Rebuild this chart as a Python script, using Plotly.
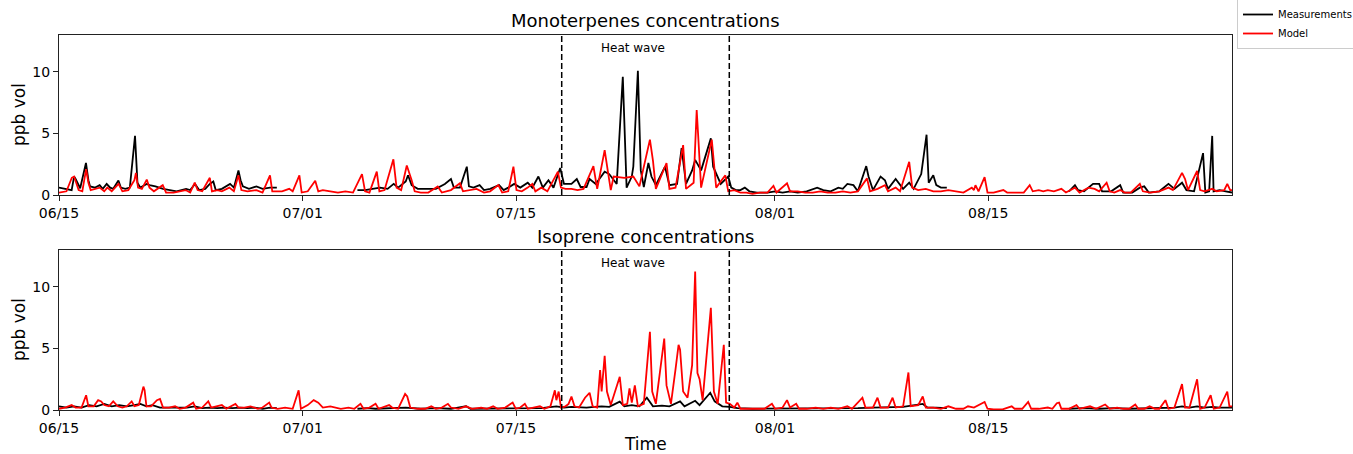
import pandas as pd
import plotly.graph_objects as go

# ---------------- data (day offset since 06/15, ppb vol) ----------------
START = "2019-06-15"
END = "2019-08-31"
HEATWAVE_START = "2019-07-18"
HEATWAVE_END = "2019-07-29"
tick_dates = ["2019-06-15", "2019-07-01", "2019-07-15", "2019-08-01", "2019-08-15"]
tick_labels = ["06/15", "07/01", "07/15", "08/01", "08/15"]
y_ticks = [0, 5, 10]

mono_meas = [
    (0.0,0.6),(0.40,0.5),(0.83,0.4),(0.99,1.5),(1.09,1.3),(1.39,0.55),(1.77,2.6),(1.93,1.2),(2.04,0.7),
    (2.37,0.6),(2.67,0.8),(2.87,0.5),(3.13,0.9),(3.36,0.6),(3.56,0.5),(3.90,1.17),(4.06,0.6),(4.35,0.5),
    (4.65,0.6),(4.99,4.8),(5.15,1.0),(5.34,0.6),(5.76,0.9),(5.94,0.8),(6.33,0.7),(6.83,0.5),(7.22,0.4),
    (7.72,0.3),(8.34,0.5),(8.61,0.4),(8.93,0.9),(9.20,0.4),(9.60,0.5),(9.90,0.9),(10.13,1.1),(10.29,0.4),
    (10.69,0.5),(11.23,0.9),(11.48,0.6),(11.78,2.0),(11.92,1.2),(12.07,0.7),(12.47,0.5),(12.96,0.7),
    (13.36,0.5),(13.85,0.6),(14.30,0.6),
    (16.5,None),
    (19.59,0.4),(20.09,0.4),(20.58,0.5),(21.08,0.6),(21.57,0.5),(21.97,0.9),(22.26,0.6),(22.76,1.1),
    (22.91,1.6),(23.15,0.8),(23.55,0.5),(24.24,0.5),(24.74,0.5),(25.33,0.9),(25.73,1.3),(25.92,0.6),
    (26.32,0.6),(26.77,2.3),(26.91,0.7),(27.21,0.6),(27.61,0.8),(27.90,0.4),(28.30,0.5),(28.89,0.8),
    (29.19,0.4),(29.49,0.6),(29.88,0.9),(30.28,0.6),(30.77,1.0),(31.07,0.6),(31.47,1.5),(31.76,0.6),
    (32.13,1.2),(32.46,0.6),(32.75,1.6),(32.90,2.2),(33.15,0.9),(33.64,0.9),(33.99,1.3),(34.24,0.65),
    (34.63,0.65),(34.83,1.3),(35.23,0.9),(35.82,1.9),(36.12,1.7),(36.61,0.9),(37.01,9.6),(37.26,0.6),
    (37.60,1.5),(37.70,2.3),(38.00,10.1),(38.19,2.0),(38.39,0.65),(38.69,2.6),(38.89,1.5),(39.18,0.8),
    (39.78,2.3),(40.07,0.8),(40.57,0.9),(40.87,3.8),(41.16,0.9),(41.56,2.0),(41.76,2.85),(42.15,2.0),
    (42.79,4.6),(42.94,2.3),(43.44,0.9),(43.93,1.5),(44.13,0.6),(44.43,0.4),(44.73,0.4),(45.02,0.6),
    (45.32,0.3),(45.81,0.2),(46.51,0.2),(47.00,0.3),(47.50,0.2),(47.99,0.3),(48.49,0.2),(49.08,0.3),
    (49.77,0.6),(50.17,0.4),(50.66,0.3),(51.16,0.6),(51.45,0.5),(51.75,0.9),(52.15,0.8),(52.44,0.3),
    (52.99,2.35),(53.14,1.5),(53.43,0.4),(53.93,1.5),(54.22,1.2),(54.42,0.5),(54.92,1.3),(55.21,0.8),
    (55.41,0.5),(55.81,1.0),(56.10,0.5),(56.60,1.7),(56.95,4.9),(57.09,1.0),(57.39,1.6),(57.59,0.8),
    (57.89,0.6),(58.28,0.6),
    (62.0,None),
    (66.30,0.3),(66.69,0.8),(66.89,0.4),(67.29,0.3),(67.88,0.9),(68.28,0.9),(68.47,0.3),(69.07,0.3),
    (69.66,0.8),(69.86,0.2),(70.45,0.2),(70.95,0.6),(71.24,0.7),(71.54,0.2),(72.23,0.3),(72.83,0.9),
    (73.22,0.5),(73.72,1.0),(74.01,0.4),(74.51,0.3),(75.10,3.4),(75.25,0.2),(75.50,0.3),(75.70,4.8),
    (75.79,0.3),(76.19,0.4),(76.59,0.3),(77.0,0.2),
]

mono_model = [
    (0.0,0.2),(0.49,0.3),(0.84,1.4),(0.99,1.5),(1.29,0.4),(1.53,0.3),(1.78,2.1),(1.93,1.0),(2.08,0.4),
    (2.37,0.5),(2.67,0.6),(2.97,0.3),(3.17,0.6),(3.46,0.3),(3.91,0.9),(4.16,0.3),(4.55,0.4),(4.95,1.2),
    (5.05,1.8),(5.19,0.6),(5.44,0.5),(5.76,1.25),(5.94,0.6),(6.23,0.3),(6.81,0.8),(7.03,0.2),(7.52,0.2),
    (7.92,0.3),(8.31,0.4),(8.61,0.2),(8.91,1.0),(9.10,0.4),(9.40,0.3),(9.90,1.4),(10.04,0.3),(10.39,0.4),
    (10.69,0.3),(11.18,0.6),(11.48,0.3),(11.78,1.6),(11.97,0.4),(12.37,0.3),(12.96,0.4),(13.36,0.2),
    (13.85,1.6),(14.00,0.3),(14.35,0.3),(14.64,0.3),(15.11,0.5),(15.34,0.3),(15.78,1.6),(15.93,0.2),
    (16.33,0.3),(16.82,1.15),(17.02,0.3),(17.32,0.4),(17.81,0.3),(18.31,0.2),(18.80,0.3),(19.30,0.2),
    (19.89,1.7),(20.09,0.3),(20.38,0.2),(20.86,1.9),(21.03,0.3),(21.37,0.4),(21.95,2.9),(22.16,0.6),
    (22.46,0.4),(22.83,2.4),(23.15,1.2),(23.35,0.3),(23.75,0.2),(24.24,0.2),(24.86,0.7),(25.13,0.2),
    (25.73,0.4),(26.32,0.95),(26.52,0.3),(27.01,0.4),(27.41,0.5),(27.90,0.2),(28.30,0.3),(28.84,0.8),
    (29.09,0.2),(29.49,0.3),(29.83,2.3),(30.03,0.4),(30.38,0.3),(30.77,0.6),(31.07,0.9),(31.27,0.3),
    (31.66,0.6),(32.06,0.3),(32.75,1.9),(32.95,0.6),(33.25,0.5),(33.64,0.5),(34.04,0.4),(34.43,0.5),
    (35.08,2.35),(35.33,0.5),(35.82,3.65),(36.02,2.0),(36.22,0.4),(36.41,1.5),(37.11,1.4),(37.70,1.5),
    (38.10,0.7),(38.79,4.5),(38.99,2.8),(39.18,0.5),(39.88,2.6),(40.07,0.5),(40.47,0.6),(40.97,4.05),
    (41.16,0.5),(41.66,1.0),(41.86,6.9),(41.95,5.0),(42.15,0.6),(42.85,4.5),(42.94,3.1),(43.14,0.6),
    (43.74,1.6),(43.93,0.3),(44.33,0.4),(44.73,0.2),(45.12,0.2),(45.52,0.1),(46.01,0.2),(46.51,0.2),
    (46.90,0.75),(47.10,0.2),(47.79,0.95),(47.99,0.3),(48.49,0.3),(48.98,0.2),(49.48,0.2),(49.97,0.3),
    (50.46,0.2),(50.96,0.2),(51.45,0.3),(51.95,0.2),(52.44,0.3),(53.04,1.35),(53.24,0.3),(53.73,0.5),
    (54.22,0.8),(54.42,0.3),(54.92,0.6),(55.21,0.3),(55.81,2.7),(56.01,0.6),(56.40,0.4),(56.90,0.5),
    (57.39,0.3),(57.89,0.3),(58.38,0.4),(58.88,0.3),(59.37,0.2),(59.92,0.6),(60.06,0.4),(60.16,0.8),
    (60.36,0.3),(60.76,1.45),(60.95,0.2),(61.35,0.2),(61.99,0.4),(62.24,0.2),(62.83,0.2),(63.33,0.2),
    (63.72,0.8),(63.92,0.3),(64.32,0.4),(64.61,0.3),(64.91,0.4),(65.31,0.3),(65.80,0.5),(66.10,0.2),
    (66.69,0.6),(66.99,0.2),(67.58,0.6),(67.98,0.5),(68.28,0.3),(68.77,1.0),(68.97,0.3),(69.27,0.2),
    (69.66,0.4),(69.96,0.2),(70.35,0.2),(70.95,0.9),(71.15,0.3),(71.64,0.2),(72.23,0.3),(72.83,0.6),
    (73.12,0.4),(73.72,1.8),(73.92,1.3),(74.11,0.4),(74.71,1.95),(74.91,0.4),(75.20,0.3),(75.70,0.5),
    (75.99,0.3),(76.49,0.4),(76.69,0.9),(76.88,0.4),(77.0,0.4),
]

iso_meas = [
    (0.0,0.3),(0.49,0.2),(0.99,0.3),(1.48,0.2),(1.98,0.4),(2.47,0.3),(2.97,0.5),(3.46,0.3),(3.96,0.4),
    (4.45,0.3),(4.95,0.4),(5.34,0.5),(5.74,0.3),(6.13,0.4),(6.63,0.2),(7.22,0.2),(7.92,0.15),(8.41,0.2),
    (8.91,0.3),(9.40,0.15),(9.90,0.2),(10.39,0.15),(10.88,0.2),(11.38,0.15),(11.87,0.2),(12.37,0.15),
    (12.86,0.2),(13.36,0.1),(13.85,0.2),(14.30,0.15),
    (16.5,None),
    (19.59,0.1),(20.28,0.15),(20.78,0.1),(21.77,0.15),(22.76,0.2),(23.75,0.1),(24.74,0.15),(25.73,0.1),
    (26.72,0.3),(27.01,0.1),(27.71,0.1),(28.70,0.15),(29.69,0.1),(30.67,0.15),(31.66,0.15),(32.65,0.3),
    (33.15,0.2),(33.64,0.25),(34.14,0.2),(34.63,0.2),(35.13,0.25),(35.62,0.3),(36.12,0.25),(36.81,0.68),
    (37.11,0.3),(37.60,0.4),(38.10,0.3),(38.59,1.0),(38.99,0.3),(39.58,0.35),(40.07,0.3),(40.77,0.7),
    (41.06,0.3),(41.76,0.75),(42.05,0.4),(42.75,1.4),(43.04,0.7),(43.54,0.3),(44.03,0.25),(44.53,0.15),
    (45.52,0.1),(46.51,0.1),(47.50,0.15),(48.49,0.1),(49.48,0.1),(50.46,0.15),(51.45,0.1),(52.44,0.15),
    (53.43,0.2),(54.42,0.2),(55.41,0.25),(56.70,0.5),(57.00,0.2),(57.59,0.2),(58.28,0.15),
    (62.0,None),
    (66.30,0.1),(67.29,0.15),(68.28,0.1),(69.27,0.15),(70.25,0.1),(71.24,0.15),(72.23,0.2),(73.22,0.2),
    (73.72,0.3),(74.21,0.2),(74.71,0.3),(75.20,0.2),(75.70,0.25),(76.19,0.2),(77.0,0.2),
]

iso_model = [
    (0.0,0.1),(0.40,0.2),(0.83,0.4),(1.09,0.2),(1.48,0.2),(1.78,1.2),(1.93,0.3),(2.28,0.3),(2.57,0.8),
    (2.77,0.7),(2.97,0.4),(3.27,0.3),(3.56,0.7),(3.86,0.3),(4.16,0.2),(4.45,0.3),(4.77,0.7),(4.95,0.3),
    (5.24,0.4),(5.54,1.9),(5.62,1.6),(5.74,0.3),(6.04,0.3),(6.43,0.8),(6.63,0.9),(6.83,0.2),(7.22,0.2),
    (7.62,0.3),(7.92,0.1),(8.31,0.2),(8.81,0.6),(9.00,0.1),(9.40,0.2),(9.80,0.7),(9.99,0.2),(10.39,0.3),
    (10.69,0.4),(10.98,0.1),(11.58,0.5),(11.78,0.2),(12.17,0.2),(12.57,0.3),(13.06,0.1),(13.36,0.2),
    (13.80,0.6),(13.95,0.2),(14.35,0.1),(14.84,0.2),(15.34,0.1),(15.73,1.6),(15.88,0.1),(16.33,0.4),
    (16.72,0.8),(17.02,0.6),(17.32,0.2),(17.81,0.3),(18.11,0.2),(18.50,0.1),(19.00,0.2),(19.39,0.1),
    (19.79,0.5),(19.99,0.1),(20.38,0.2),(20.78,0.5),(20.98,0.1),(21.27,0.2),(21.67,0.4),(21.87,0.2),
    (22.26,0.1),(22.72,1.3),(22.86,1.1),(23.06,0.2),(23.55,0.1),(24.04,0.1),(24.44,0.3),(24.74,0.1),
    (25.13,0.2),(25.53,0.5),(25.73,0.2),(26.22,0.1),(26.72,0.3),(27.11,0.1),(27.71,0.2),(28.10,0.1),
    (28.50,0.3),(28.79,0.1),(29.29,0.2),(29.78,0.6),(29.98,0.1),(30.28,0.2),(30.58,0.5),(30.77,0.1),
    (31.17,0.2),(31.57,0.3),(31.86,0.1),(32.26,0.3),(32.55,1.6),(32.65,0.8),(32.80,1.5),(32.95,0.2),
    (33.25,0.3),(33.45,0.5),(33.64,1.1),(33.84,0.3),(34.14,0.2),(34.53,1.0),(34.83,1.4),(35.03,0.3),
    (35.33,0.2),(35.52,3.25),(35.62,1.5),(35.82,4.4),(35.97,1.5),(36.22,0.4),(36.81,2.7),(37.01,0.4),
    (37.30,0.5),(37.45,1.75),(37.60,0.6),(37.80,2.0),(38.00,0.3),(38.39,0.5),(38.79,6.35),(38.94,1.5),
    (39.18,0.5),(39.73,5.8),(39.88,2.0),(40.17,0.5),(40.47,3.3),(40.67,5.3),(40.77,4.9),(40.97,1.5),
    (41.26,1.0),(41.56,3.65),(41.76,11.25),(41.91,3.0),(42.05,2.5),(42.25,0.8),(42.79,8.3),(42.99,1.5),
    (43.24,0.5),(43.64,5.3),(43.79,0.6),(44.03,0.5),(44.33,0.2),(44.53,0.6),(44.73,0.1),(45.22,0.1),
    (45.81,0.1),(46.31,0.1),(46.80,0.5),(47.00,0.1),(47.50,0.2),(47.79,0.8),(47.99,0.2),(48.39,0.5),
    (48.58,0.1),(49.08,0.1),(49.67,0.2),(50.17,0.1),(50.66,0.2),(51.16,0.1),(51.75,0.3),(52.05,0.1),
    (52.74,1.0),(52.94,0.2),(53.43,0.2),(53.73,1.0),(53.93,0.2),(54.42,0.2),(54.72,1.0),(54.92,0.2),
    (55.41,0.3),(55.76,3.05),(55.91,0.3),(56.40,0.4),(56.70,1.1),(56.90,0.2),(57.39,0.2),(57.89,0.1),
    (58.38,0.3),(58.88,0.1),(59.37,0.1),(59.67,0.3),(60.06,0.2),(60.76,0.65),(60.95,0.1),(61.35,0.05),
    (61.94,0.05),(62.54,0.3),(62.73,0.1),(63.23,0.1),(63.62,0.65),(63.82,0.1),(64.32,0.1),(64.91,0.2),
    (65.21,0.1),(65.50,0.55),(65.65,0.6),(65.80,0.1),(66.30,0.1),(66.59,0.3),(66.79,0.4),(66.99,0.1),
    (67.68,0.3),(68.08,0.1),(68.67,0.45),(68.97,0.1),(69.46,0.2),(69.86,0.1),(70.25,0.1),(70.65,0.45),
    (70.85,0.1),(71.24,0.1),(71.59,0.3),(71.94,0.1),(72.23,0.1),(72.63,0.8),(72.83,0.1),(73.22,0.2),
    (73.72,2.1),(73.92,0.2),(74.21,0.2),(74.71,2.5),(74.91,0.1),(75.20,0.2),(75.60,1.2),(75.80,0.1),
    (76.19,0.2),(76.69,1.5),(76.83,0.3),(77.0,0.3),
]


def split(series):
    t0 = pd.Timestamp(START)
    xs = [t0 + pd.Timedelta(days=d) for d, _ in series]
    ys = [v for _, v in series]
    return xs, ys


FONT = "DejaVu Sans, Verdana, sans-serif"
W, H = 1353, 454
L, R, T, B = 59, 121, 35, 44
PH = H - T - B


def py(pix):  # pixel row -> paper y
    return (H - B - pix) / PH


def px(pix):  # pixel column -> paper x
    return (pix - L) / (W - L - R)


fig = go.Figure()
panels = [("x", "y", mono_meas, mono_model, True), ("x2", "y2", iso_meas, iso_model, False)]
for xa, ya, meas, model, show in panels:
    mx, my = split(meas)
    fx, fy = split(model)
    fig.add_trace(go.Scatter(x=mx, y=my, mode="lines", name="Measurements", xaxis=xa, yaxis=ya,
                             line=dict(color="black", width=1.8), showlegend=show, connectgaps=False))
    fig.add_trace(go.Scatter(x=fx, y=fy, mode="lines", name="Model", xaxis=xa, yaxis=ya,
                             line=dict(color="#ff0000", width=1.8), showlegend=show))

axis_common = dict(showline=True, mirror=True, linecolor="#222", linewidth=1, showgrid=False,
                   zeroline=False, ticks="outside", ticklen=5, tickwidth=1, tickcolor="#222",
                   tickfont=dict(family=FONT, size=14, color="black"))
xcommon = dict(axis_common, type="date", range=[START, END], tickvals=tick_dates, ticktext=tick_labels)
ycommon = dict(axis_common, range=[0, 13], tickvals=y_ticks, ticktext=[str(v) for v in y_ticks])

top_dom = [py(195), 1.0]
bot_dom = [0.0, py(250)]

shapes = []
for xa, ya in [("x", "y"), ("x2", "y2")]:
    for d in [HEATWAVE_START, HEATWAVE_END]:
        shapes.append(dict(type="line", xref=xa, yref=f"{ya} domain", x0=d, x1=d, y0=0, y1=1,
                           line=dict(color="black", width=1.5, dash="6px,3px")))

annotations = [
    dict(text="Monoterpenes concentrations", xref="paper", yref="paper", x=0.5, y=py(21),
         xanchor="center", yanchor="middle", showarrow=False, font=dict(family=FONT, size=18, color="black")),
    dict(text="Isoprene concentrations", xref="paper", yref="paper", x=0.5, y=py(237),
         xanchor="center", yanchor="middle", showarrow=False, font=dict(family=FONT, size=18, color="black")),
    dict(text="ppb vol", xref="paper", yref="paper", x=px(19), y=py(115), textangle=-90,
         xanchor="center", yanchor="middle", showarrow=False, font=dict(family=FONT, size=17, color="black")),
    dict(text="ppb vol", xref="paper", yref="paper", x=px(19), y=py(330), textangle=-90,
         xanchor="center", yanchor="middle", showarrow=False, font=dict(family=FONT, size=17, color="black")),
    dict(text="Time", xref="paper", yref="paper", x=0.5, y=py(444),
         xanchor="center", yanchor="middle", showarrow=False, font=dict(family=FONT, size=17, color="black")),
]
heat_label_day = pd.Timestamp(START) + pd.Timedelta(days=37.68)
for xa, ya in [("x", "y"), ("x2", "y2")]:
    annotations.append(dict(text="Heat wave", xref=xa, yref=ya, x=heat_label_day, y=11.95,
                            xanchor="center", yanchor="middle", showarrow=False,
                            font=dict(family=FONT, size=12, color="black")))

fig.update_layout(
    width=W, height=H,
    margin=dict(l=L, r=R, t=T, b=B, pad=0, autoexpand=False),
    paper_bgcolor="white", plot_bgcolor="white",
    font=dict(family=FONT, color="black"),
    xaxis=dict(xcommon, domain=[0, 1], anchor="y"),
    yaxis=dict(ycommon, domain=top_dom, anchor="x"),
    xaxis2=dict(xcommon, domain=[0, 1], anchor="y2"),
    yaxis2=dict(ycommon, domain=bot_dom, anchor="x2"),
    shapes=shapes,
    annotations=annotations,
    legend=dict(x=px(1237), y=py(-1), xanchor="left", yanchor="top", bgcolor="white",
                bordercolor="#cccccc", borderwidth=1, font=dict(family=FONT, size=10, color="black"),
                itemwidth=30, tracegroupgap=0),
    showlegend=True,
    hovermode=False,
)

fig.write_html("out.html", config={"displayModeBar": False},
               post_script="document.body.style.margin='0';")
